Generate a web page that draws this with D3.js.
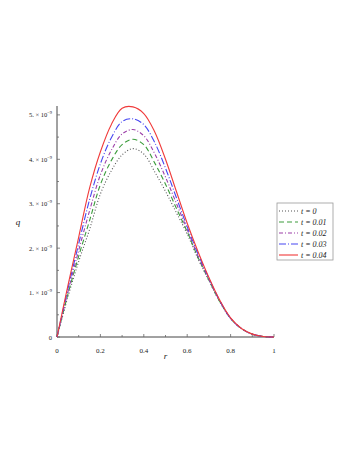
<!DOCTYPE html>
<html>
<head>
<meta charset="utf-8">
<script src="https://cdn.jsdelivr.net/npm/d3@7"></script>
<style>
  html, body { margin: 0; padding: 0; background: #fff; }
  svg { display: block; }
  text { font-family: "Liberation Serif", "DejaVu Serif", serif; fill: #1a1a1a; }
</style>
</head>
<body>
<div id="chart"></div>
<script>
// radius samples
var rValues = [0, 0.05, 0.1, 0.15, 0.2, 0.25, 0.3, 0.35, 0.4, 0.45, 0.5,
               0.55, 0.6, 0.65, 0.7, 0.75, 0.8, 0.85, 0.9, 0.95, 1];

// q values, units of 1e-9
var qT0   = [0, 0.90, 1.70, 2.42, 3.22, 3.74, 4.10, 4.24, 4.12, 3.72, 3.28,
             2.80, 2.32, 1.76, 1.27, 0.79, 0.42, 0.19, 0.065, 0.012, 0];
var qT001 = [0, 0.96, 1.82, 2.62, 3.43, 3.97, 4.33, 4.45, 4.33, 3.92, 3.44,
             2.90, 2.37, 1.79, 1.28, 0.80, 0.42, 0.19, 0.065, 0.012, 0];
var qT002 = [0, 1.01, 1.95, 2.84, 3.65, 4.20, 4.57, 4.67, 4.53, 4.13, 3.60,
             3.01, 2.42, 1.82, 1.30, 0.81, 0.42, 0.19, 0.065, 0.012, 0];
var qT003 = [0, 1.08, 2.10, 3.09, 3.90, 4.48, 4.85, 4.91, 4.78, 4.38, 3.80,
             3.14, 2.48, 1.87, 1.32, 0.82, 0.42, 0.19, 0.065, 0.012, 0];
var qT004 = [0, 1.15, 2.25, 3.35, 4.17, 4.78, 5.15, 5.18, 5.03, 4.62, 4.00,
             3.28, 2.56, 1.92, 1.34, 0.83, 0.43, 0.19, 0.065, 0.012, 0];

var seriesNames = ["t = 0", "t = 0.01", "t = 0.02", "t = 0.03", "t = 0.04"];
var seriesValues = [qT0, qT001, qT002, qT003, qT004];

var xTicks = [0, 0.2, 0.4, 0.6, 0.8, 1];
var xTickLabels = ["0", "0.2", "0.4", "0.6", "0.8", "1"];
var yTicks = [0, 1, 2, 3, 4, 5];
var yTickLabels = ["0", "1.", "2.", "3.", "4.", "5."];

var colors = ["#555555", "#3c9c3c", "#9c3fa8", "#4646f2", "#f03a3a"];
var dashes = ["1,2", "5,3", "4,2,1,2", "7,2,1,2", null];

var width = 360, height = 466;
var svg = d3.select("#chart").append("svg")
    .attr("width", width).attr("height", height);

var x = d3.scaleLinear().domain([0, 1]).range([57, 274]);
var y = d3.scaleLinear().domain([0, 5.2]).range([337, 106]);

// axes lines
svg.append("line").attr("x1", x(0)).attr("x2", x(1)).attr("y1", y(0)).attr("y2", y(0))
    .attr("stroke", "#444").attr("stroke-width", 1);
svg.append("line").attr("x1", x(0)).attr("x2", x(0)).attr("y1", y(0)).attr("y2", y(5.2))
    .attr("stroke", "#444").attr("stroke-width", 1);

// x ticks (inward)
d3.range(0, 1.0001, 0.1).forEach(function(t, i) {
    var major = i % 2 === 0;
    svg.append("line").attr("x1", x(t)).attr("x2", x(t))
        .attr("y1", y(0)).attr("y2", y(0) - (major ? 3 : 2))
        .attr("stroke", "#666").attr("stroke-width", 0.8);
});
xTicks.forEach(function(t, i) {
    svg.append("text").attr("x", x(t)).attr("y", y(0) + 16)
        .attr("text-anchor", "middle").attr("font-size", 7)
        .text(xTickLabels[i]);
});

// y ticks (inward)
d3.range(0, 5.0001, 0.5).forEach(function(t, i) {
    var major = i % 2 === 0;
    svg.append("line").attr("x1", x(0)).attr("x2", x(0) + (major ? 3 : 2))
        .attr("y1", y(t)).attr("y2", y(t))
        .attr("stroke", "#666").attr("stroke-width", 0.8);
});
yTicks.forEach(function(t, i) {
    var txt = svg.append("text").attr("x", 52).attr("y", y(t) + 2.5)
        .attr("text-anchor", "end").attr("font-size", 6.5);
    if (t === 0) {
        txt.text(yTickLabels[i]);
    } else {
        txt.append("tspan").text(yTickLabels[i] + " \u00d7 10");
        txt.append("tspan").attr("dy", -3).attr("font-size", 4.5).text("\u2212" + "9");
    }
});

// axis labels
svg.append("text").attr("x", (x(0) + x(1)) / 2).attr("y", 359)
    .attr("text-anchor", "middle").attr("font-size", 9).attr("font-style", "italic")
    .text("r");
svg.append("text").attr("x", 18).attr("y", 225)
    .attr("text-anchor", "middle").attr("font-size", 9).attr("font-style", "italic")
    .text("q");

// curves
var line = d3.line()
    .x(function(d) { return x(d[0]); })
    .y(function(d) { return y(d[1]); })
    .curve(d3.curveCatmullRom.alpha(0.5));

seriesValues.forEach(function(vals, i) {
    var pts = rValues.map(function(r, j) { return [r, vals[j]]; });
    svg.append("path").attr("d", line(pts))
        .attr("fill", "none")
        .attr("stroke", colors[i])
        .attr("stroke-width", 1.1)
        .attr("stroke-dasharray", dashes[i]);
});

// legend
var lg = svg.append("g").attr("transform", "translate(277,203)");
lg.append("rect").attr("width", 56).attr("height", 57)
    .attr("fill", "#fff").attr("stroke", "#999").attr("stroke-width", 0.8);
seriesNames.forEach(function(name, i) {
    var yy = 8 + i * 11;
    lg.append("line").attr("x1", 2).attr("x2", 21).attr("y1", yy).attr("y2", yy)
        .attr("stroke", colors[i]).attr("stroke-width", 1.1)
        .attr("stroke-dasharray", dashes[i]);
    lg.append("text").attr("x", 24).attr("y", yy + 3)
        .attr("font-size", 8).attr("font-style", "italic")
        .text(name);
});
</script>
</body>
</html>
